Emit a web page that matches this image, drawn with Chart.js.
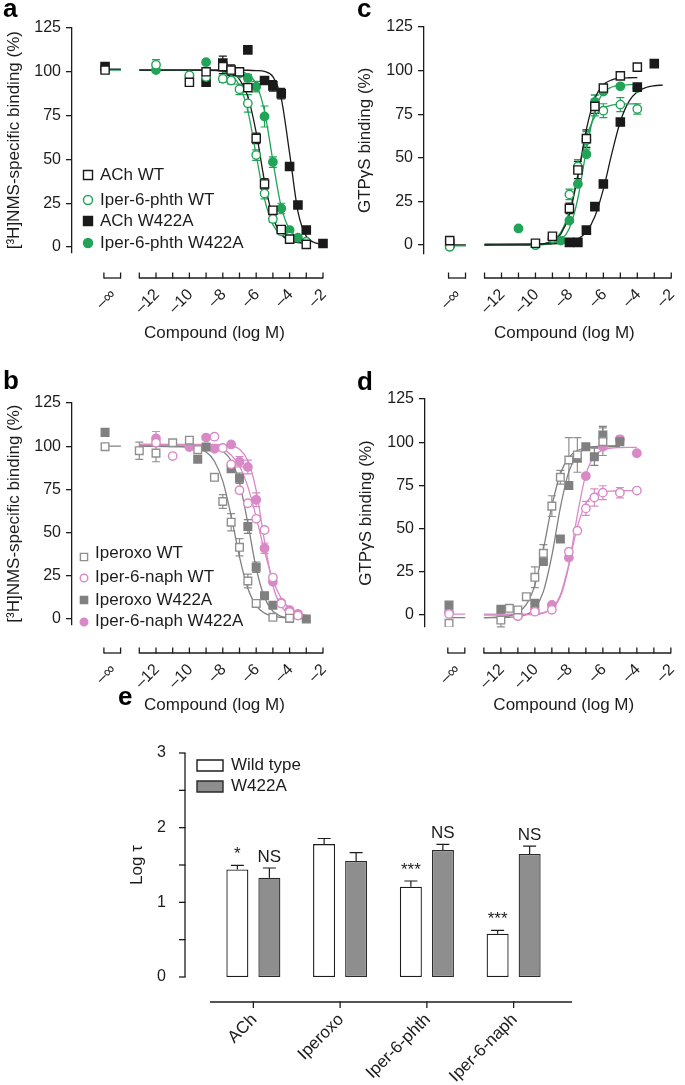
<!DOCTYPE html>
<html><head><meta charset="utf-8">
<script src="https://cdn.jsdelivr.net/npm/chart.js@4.4.1/dist/chart.umd.min.js"></script>
<style>
html,body{margin:0;padding:0;background:#fff}
body{width:685px;height:1085px;position:relative;overflow:hidden}
canvas{position:absolute}
</style></head>
<body>
<canvas id="pa" width="340" height="345" style="left:0;top:0"></canvas>
<canvas id="pc" width="345" height="345" style="left:340px;top:0"></canvas>
<canvas id="pb" width="340" height="380" style="left:0;top:345px"></canvas>
<canvas id="pd" width="345" height="380" style="left:340px;top:345px"></canvas>
<canvas id="pe" width="685" height="405" style="left:0;top:680px"></canvas>
<script>
// ---------------- shared axis definitions ----------------
const NEG_INF = -15.05;            // plotting position of the vehicle ("−∞") column
const STUB_END = -14.1;            // end of the short fit line drawn over the "−∞" column
const infSeg = [-15.12, -14.12];   // the "−∞" axis piece
const mainSeg = [-13, -2];         // the log-concentration axis piece
const xMinor = [-13, -12, -11, -10, -9, -8, -7, -6, -5, -4, -3, -2];
const xTickVals = [-14.62, -12, -10, -8, -6, -4, -2];
const xTickText = ['\u2013\u221e', '\u201312', '\u201310', '\u20138', '\u20136', '\u20134', '\u20132'];
const yTicksCurve = [0, 25, 50, 75, 100, 125];
const stubX = [NEG_INF, STUB_END];

// ---------------- panel a : [3H]NMS binding, ACh / Iper-6-phth ----------------
const aAChWT_x = [NEG_INF, -10, -9, -8, -7.5, -7, -6.5, -6, -5.5, -5, -4.5, -4, -3];
const aAChWT_y = [101, 94, 100, 103, 101, 100, 91, 62, 36, 21, 10, 4.5, 1.5];
const aAChWT_e = [0, 0, 0, 4, 3, 0, 2, 3, 3, 2, 0, 0, 0];
const aPhthWT_x = [-12, -10, -9, -8, -7.5, -7, -6.5, -6, -5.5, -5, -4.5, -4, -3];
const aPhthWT_y = [104, 98, 97, 96, 95, 90, 82, 52.5, 30.5, 16, 9, 6, 3];
const aPhthWT_e = [3, 0, 0, 2, 2, 3, 5, 3, 3, 2, 0, 0, 0];
const aAChW_x = [NEG_INF, -9, -8, -6.5, -5.5, -5, -4.5, -4, -3.5, -3, -2];
const aAChW_y = [103, 94, 105, 112.5, 95, 92, 87.5, 46, 24, 9.7, 2];
const aAChW_e = [0, 0, 4, 0, 2, 3, 3, 0, 0, 0, 0];
const aPhthW_x = [-12, -10, -9, -8, -7, -6.5, -6, -5.5, -5, -4.5, -4, -3.5, -3];
const aPhthW_y = [101, 97.5, 105.5, 104, 99, 96.5, 91.5, 74.5, 48.5, 22, 9.7, 5.3, 3];
const aPhthW_e = [0, 0, 0, 3, 0, 2, 3, 6, 3, 3, 1, 0, 0];
// fitted curves
const abFit_x = [-13, -10, -9, -8.5, -8, -7.5, -7, -6.5, -6, -5.5, -5, -4.5, -4, -3.5, -3, -2.5, -2];
const aFitAChWT = [101, 101, 100.9, 100.8, 100.5, 99.3, 95.7, 86, 65.4, 37.6, 17, 7.3, 3.7, 2.6, 2.2, null, null];
const aFitPhthWT = [101, 100.9, 100.9, 100.7, 100, 98, 92.2, 77.7, 52.5, 27.3, 12.8, 7, 5, 4.3, 4.1, null, null];
const aFitAChW = [101, 101, 101, 101, 101, 101, 101, 100.9, 100.7, 100.2, 97.2, 84.9, 53.6, 20.2, 6.1, 2.5, 1.7];
const aFitPhthW = [101, 101, 101, 101, 100.9, 100.8, 100.3, 98.6, 93, 77.4, 49.2, 22.9, 9.9, 5.4, 4.1, null, null];
const aStubBlack = [101.5, 101.5];
const aStubGreen = [101, 101];

// ---------------- panel b : [3H]NMS binding, Iperoxo / Iper-6-naph ----------------
const bIperoWT_x = [NEG_INF, -13, -12, -11, -10, -9.5, -8.5, -8, -7.5, -7, -6.5, -6, -5, -4];
const bIperoWT_y = [99.7, 97.4, 96, 102, 103.5, 98, 82, 68, 56, 41.5, 22, 9, 1, 0.5];
const bIperoWT_e = [0, 5, 5, 0, 0, 0, 2, 4, 5, 5, 4, 2, 0, 0];
const bNaphWT_x = [-12, -11, -8.5, -8, -7.5, -7, -6.5, -6, -5.5, -5, -4.5, -4, -3.5];
const bNaphWT_y = [102, 94.3, 105.5, 99, 89.5, 74.5, 67, 58, 51.5, 24, 9, 4, 2];
const bNaphWT_e = [0, 0, 0, 0, 0, 0, 0, 0, 0, 0, 0, 0, 0];
const bIperoW_x = [NEG_INF, -9.5, -9, -7.5, -7, -6.5, -6, -5.5, -5, -4, -3];
const bIperoW_y = [108, 92.5, 99.5, 87, 81.5, 53.5, 30, 13.5, 8, 0.5, 0];
const bIperoW_e = [0, 0, 0, 0, 3, 4, 3, 0, 0, 0, 0];
const bNaphW_x = [-12, -10, -9, -8.5, -7.5, -7, -6.5, -6, -5.5, -5, -4.5, -4, -3.5];
const bNaphW_y = [104.5, 99.5, 105, 98.5, 101, 91, 88, 69, 41, 21.5, 9.5, 5.2, 3];
const bNaphW_e = [4, 0, 0, 0, 0, 3, 4, 4, 3, 0, 0, 0, 0];
const bFitIperoWT = [100, 99.5, 96.6, 91.3, 79.8, 59.7, 36, 17.7, 7.8, 3.4, 1.6, 0.9, 0.6, null, null, null, null];
const bFitIperoW = [100, 100, 99.7, 99, 97.1, 91.7, 78.8, 55.4, 29.4, 12.3, 4.5, 1.5, 0.5, 0.2, 0.1, null, null];
const bFitNaphWT = [101, 100.8, 100, 99.6, 98.2, 94.9, 88.4, 76.6, 59, 39.2, 22.6, 11.9, 6.2, 3.4, 2.1, null, null];
const bFitNaphW = [101, 101, 101, 101, 100.8, 100.2, 98.2, 91.7, 74.5, 45, 19.4, 7.3, 3.2, 2, 1.6, null, null];
const bStubGray = [100, 100];

// ---------------- panel c : GTPγS binding, ACh / Iper-6-phth ----------------
const cAChWT_x = [NEG_INF, -10, -9, -8, -7.5, -7, -6.5, -6, -5, -4];
const cAChWT_y = [2.5, 1, 5, 21, 43, 61, 79.5, 90, 97, 102];
const cAChWT_e = [0, 0, 0, 3, 5, 5, 4, 0, 0, 0];
const cPhthWT_x = [NEG_INF, -10, -9, -8, -7.5, -7, -6.5, -6, -5, -4];
const cPhthWT_y = [-1, 0, 4, 29, 45, 60, 80, 77, 80.5, 78];
const cPhthWT_e = [0, 0, 0, 3, 4, 5, 6, 4, 4, 3];
const cAChW_x = [NEG_INF, -8, -7.5, -7, -6.5, -6, -5, -4, -3];
const cAChW_y = [1, 1.5, 1.5, 8.5, 22, 35, 70.5, 90.5, 104];
const cAChW_e = [0, 0, 0, 0, 0, 0, 0, 0, 0];
const cPhthW_x = [NEG_INF, -11, -10, -9, -8.5, -8, -7.5, -7, -6.5, -6, -5, -4];
const cPhthW_y = [-1, 9.5, 0, 3.5, 2.5, 14, 35, 52, 82, 88, 91, 90];
const cPhthW_e = [0, 0, 0, 0, 0, 0, 0, 0, 4, 0, 0, 0];
const cFit_x = [-13, -10, -9.5, -9, -8.5, -8, -7.5, -7, -6.5, -6, -5.5, -5, -4.5, -4, -3.5, -3, -2.5];
const cFitAChWT = [0, 0.2, 0.7, 2.1, 6.4, 17.5, 39.8, 66.3, 84.1, 91.9, 94.7, 95.6, 95.9, 96, null, null, null];
const cFitAChW = [0.5, 0.55, 0.6, 0.7, 1.0, 1.7, 3.4, 7.5, 16.3, 32, 52.5, 70.8, 82.2, 87.8, 90.3, 91.3, 91.7];
const cFitPhthWT = [0, 0.26, 0.8, 2.5, 7.4, 19.5, 40.5, 61.5, 73.6, 78.5, 80.2, 80.7, 80.9, 81, null, null, null];
const cFitPhthW = [0, 0.07, 0.24, 0.84, 2.9, 9.6, 26.8, 54.6, 77.1, 87.3, 90.6, 91.6, 91.9, 92, null, null, null];
const cStubBlack = [0, 0];
const cStubGreen = [-0.5, -0.5];

// ---------------- panel d : GTPγS binding, Iperoxo / Iper-6-naph ----------------
const dIperoWT_x = [NEG_INF, -12, -11.5, -11, -10.5, -10, -9.5, -9, -8.5, -8, -7.5, -6];
const dIperoWT_y = [-4.8, -2.9, 3.9, 2.9, 10.6, 21.8, 35.7, 63, 79.7, 89.7, 92.6, 100.3];
const dIperoWT_e = [0, 4, 0, 0, 0, 6, 5, 6, 4, 13, 10, 8];
const dNaphWT_x = [NEG_INF, -11, -10, -9, -8, -7.5, -7, -6.5, -6, -5, -4];
const dNaphWT_y = [0.6, -0.6, 1.9, 3, 36.6, 48.8, 61.7, 68, 70.8, 70.8, 72];
const dNaphWT_e = [0, 0, 0, 0, 0, 0, 4, 5, 4, 3, 0];
const dIperoW_x = [NEG_INF, -12, -10, -9.5, -8.5, -8, -7.5, -7, -6.5, -6, -5];
const dIperoW_y = [5.8, 3.3, 6.8, 31, 44, 75, 90.7, 97.4, 91.6, 104.2, 100.3];
const dIperoW_e = [0, 0, 0, 0, 2, 0, 0, 0, 5, 5, 0];
const dNaphW_x = [NEG_INF, -11, -10, -9, -8, -7, -6, -5, -4];
const dNaphW_y = [1.9, -0.6, 2.9, 5.8, 33.2, 80.4, 97.4, 101.6, 93.6];
const dNaphW_e = [0, 0, 0, 0, 0, 0, 0, 2, 0];
const dFit_x = [-13, -11.5, -11, -10.5, -10, -9.5, -9, -8.5, -8, -7.5, -7, -6.5, -6, -5.5, -5, -4.5, -4];
const dFitIperoWT = [-1.5, -0.5, 1.4, 6.1, 17.3, 38, 63, 81.7, 91.2, 95.2, 96.7, 97.2, 97.4, 97.5, 97.5, null, null];
const dFitIperoW = [-1.5, -1.3, -1.0, 0.2, 3.7, 13.5, 34.3, 62.2, 83, 92.7, 96.3, 97.5, 97.8, 97.9, 98, null, null];
const dFitNaphWT = [0, 0, 0.1, 0.2, 0.3, 1.1, 3.7, 11.6, 29.3, 51, 64.5, 69.7, 71.3, 71.7, 71.9, 72, 72];
const dFitNaphW = [0.5, 0.5, 0.5, 0.5, 0.6, 1.4, 3.6, 10.5, 28.6, 57.8, 81.4, 92, 95.5, 96.6, 96.9, 97, 97];
const dStubGray = [-1.5, -1.5];
const dStubPink = [0.5, 0.5];

// ---------------- panel e : operational efficacy (log τ) ----------------
const eCategories = ['ACh', 'Iperoxo', 'Iper-6-phth', 'Iper-6-naph'];
const eWT = [1.44, 1.78, 1.21, 0.58];
const eWT_err = [0.055, 0.075, 0.076, 0.045];
const eW422A = [1.33, 1.555, 1.70, 1.647];
const eW422A_err = [0.13, 0.11, 0.076, 0.107];
const eSigWT = ['*', '', '***', '***'];
const eSigW = ['NS', '', 'NS', 'NS'];
const eYLabels = [0, 1, 2, 3];
const eYTicks = [0, 0.5, 1, 1.5, 2, 2.5, 3];

// ---------------- styling ----------------
const FONT = '"Liberation Sans", Arial, Helvetica, sans-serif';
const INK = '#1c1c1c';
const BLACK = '#1a1a1a', GREEN = '#21a458', GRAY = '#808080', GRAY_O = '#909090', PINK = '#d889c6';
Chart.defaults.font.family = FONT;
Chart.defaults.color = INK;

function pointSet(label, xs, ys, errs, color, style, open, r) {
  return {
    label, data: xs.map((x, i) => ({ x, y: ys[i] })), errs, capW: 4,
    pointStyle: style, pointRadius: r, borderWidth: 1.4,
    backgroundColor: open ? '#ffffff' : color, borderColor: color,
    showLine: false, order: 1
  };
}
function lineSet(xs, ys, color, order) {
  return {
    label: '', data: xs.map((x, i) => ({ x, y: ys[i] })).filter(p => p.y !== null),
    showLine: true, pointRadius: 0, borderColor: color, backgroundColor: color, borderWidth: 1.3,
    cubicInterpolationMode: 'monotone', fill: false, order: order || 5
  };
}
function drawErrorBars(chart) {
  const ctx = chart.ctx, ys = chart.scales.y;
  chart.data.datasets.forEach((ds, di) => {
    if (!ds.errs) return;
    const meta = chart.getDatasetMeta(di);
    ctx.save();
    ctx.strokeStyle = ds.errColor || ds.borderColor;
    ctx.lineWidth = 1.2;
    meta.data.forEach((el, i) => {
      const e = ds.errs[i]; if (!e) return;
      const d = ds.data[i]; const v = typeof d === 'number' ? d : d.y;
      const yt = ys.getPixelForValue(v + e);
      const yb = ds.upOnly ? el.y : ys.getPixelForValue(v - e);
      ctx.beginPath();
      ctx.moveTo(el.x, yb); ctx.lineTo(el.x, yt);
      ctx.moveTo(el.x - ds.capW, yt); ctx.lineTo(el.x + ds.capW, yt);
      if (!ds.upOnly) { ctx.moveTo(el.x - ds.capW, yb); ctx.lineTo(el.x + ds.capW, yb); }
      ctx.stroke();
    });
    ctx.restore();
  });
}
function drawMarker(ctx, style, x, y, r) {
  ctx.beginPath();
  if (style === 'circle') ctx.arc(x, y, r, 0, Math.PI * 2);
  else ctx.rect(x - r, y - r, 2 * r, 2 * r);
  ctx.fill(); ctx.stroke();
}

function curvePanel(id, P) {
  const deco = {
    id: 'deco',
    beforeDatasetsDraw(chart) { drawErrorBars(chart); },
    afterDraw(chart) {
      const ctx = chart.ctx, ca = chart.chartArea, xs = chart.scales.x;
      const y0 = ca.bottom + P.gap;
      ctx.save();
      ctx.strokeStyle = INK; ctx.lineWidth = 1.3;
      [infSeg, mainSeg].forEach(s => {
        ctx.beginPath();
        ctx.moveTo(xs.getPixelForValue(s[0]), y0);
        ctx.lineTo(xs.getPixelForValue(s[1]), y0);
        ctx.stroke();
      });
      infSeg.concat(xMinor).forEach(v => {
        const x = xs.getPixelForValue(v);
        ctx.beginPath(); ctx.moveTo(x, y0 + 0.6); ctx.lineTo(x, y0 - 5.5); ctx.stroke();
      });
      ctx.fillStyle = INK; ctx.font = '16px ' + FONT;
      ctx.textAlign = 'right'; ctx.textBaseline = 'middle';
      xTickVals.forEach((v, i) => {
        const x = xs.getPixelForValue(v);
        ctx.save(); ctx.translate(x + 1, y0 + 14); ctx.rotate(-Math.PI / 4);
        ctx.fillText(xTickText[i], 0, 0); ctx.restore();
      });
      ctx.textAlign = 'center'; ctx.font = '17px ' + FONT;
      ctx.fillText('Compound (log M)', xs.getPixelForValue(P.titleAt), y0 + P.titleGap);
      // legend
      if (P.legend) {
        ctx.textAlign = 'left'; ctx.textBaseline = 'middle'; ctx.font = '17px ' + FONT;
        P.legend.forEach(it => {
          const ds = chart.data.datasets[it.ds];
          ctx.fillStyle = ds.backgroundColor; ctx.strokeStyle = ds.borderColor; ctx.lineWidth = 1.4;
          drawMarker(ctx, ds.pointStyle, P.legendMX, it.my, it.r);
          ctx.fillStyle = INK; ctx.fillText(ds.label, P.legendTX, it.ty);
        });
      }
      // panel letter
      ctx.fillStyle = '#000'; ctx.font = 'bold 26px ' + FONT;
      ctx.textAlign = 'left'; ctx.textBaseline = 'alphabetic';
      ctx.fillText(P.letter, P.letterX, P.letterY);
      ctx.restore();
    }
  };
  return new Chart(document.getElementById(id), {
    type: 'scatter',
    data: { datasets: P.datasets },
    options: {
      responsive: false, animation: false, events: [],
      layout: { padding: { left: P.padL, right: P.padR, top: P.padT, bottom: P.padB } },
      scales: {
        x: { type: 'linear', display: false, min: P.xmin, max: P.xmax },
        y: {
          type: 'linear', min: P.ymin, max: 125,
          afterBuildTicks: s => { s.ticks = yTicksCurve.map(v => ({ value: v })); },
          afterFit: s => { s.width = P.yw; },
          grid: { display: true, drawOnChartArea: false, drawTicks: true, tickLength: 6, color: INK, lineWidth: 1.3 },
          border: { display: true, color: INK, width: 1.3 },
          ticks: { padding: 5, color: INK, font: { size: 16 } },
          title: { display: true, text: P.ytitle, color: INK, font: { size: 17 }, padding: { top: 4, bottom: 4 } }
        }
      },
      plugins: { legend: { display: false }, tooltip: { enabled: false } }
    },
    plugins: [deco]
  });
}

// ---- panel a
curvePanel('pa', {
  padL: 0, yw: 72, padR: 9, padT: 28, padB: 92.7, ymin: -3, xmin: -17.03, xmax: -1.52,
  gap: 25.7, titleAt: -8.5, titleGap: 55, letter: 'a', letterX: 3, letterY: 17,
  ytitle: '[\u00b3H]NMS-specific binding (%)',
  legendMX: 88, legendTX: 100,
  legend: [{ ds: 0, my: 175, ty: 175, r: 4.5 }, { ds: 1, my: 200, ty: 200, r: 4.5 },
           { ds: 2, my: 221, ty: 221, r: 4.5 }, { ds: 3, my: 243, ty: 243, r: 4.5 }],
  datasets: [
    pointSet('ACh WT', aAChWT_x, aAChWT_y, aAChWT_e, BLACK, 'rect', true, 5.8),
    pointSet('Iper-6-phth WT', aPhthWT_x, aPhthWT_y, aPhthWT_e, GREEN, 'circle', true, 4.2),
    pointSet('ACh W422A', aAChW_x, aAChW_y, aAChW_e, BLACK, 'rect', false, 5.8),
    pointSet('Iper-6-phth W422A', aPhthW_x, aPhthW_y, aPhthW_e, GREEN, 'circle', false, 4.2),
    lineSet(abFit_x, aFitAChWT, BLACK),
    lineSet(abFit_x, aFitPhthWT, GREEN),
    lineSet(abFit_x, aFitAChW, BLACK),
    lineSet(abFit_x, aFitPhthW, GREEN),
    lineSet(stubX, aStubGreen, GREEN, 6),
    lineSet(stubX, aStubBlack, BLACK, 4)
  ]
});

// ---- panel b
curvePanel('pb', {
  padL: 0, yw: 72, padR: 9, padT: 58, padB: 100.8, ymin: -3, xmin: -17.03, xmax: -1.52,
  gap: 28.8, titleAt: -8.5, titleGap: 52, letter: 'b', letterX: 3, letterY: 44,
  ytitle: '[\u00b3H]NMS-specific binding (%)',
  legendMX: 84, legendTX: 95,
  legend: [{ ds: 0, my: 212, ty: 208, r: 3.6 }, { ds: 1, my: 233, ty: 232, r: 3.8 },
           { ds: 2, my: 255, ty: 255, r: 3.6 }, { ds: 3, my: 277, ty: 276, r: 3.8 }],
  datasets: [
    pointSet('Iperoxo WT', bIperoWT_x, bIperoWT_y, bIperoWT_e, GRAY_O, 'rect', true, 5.4),
    pointSet('Iper-6-naph WT', bNaphWT_x, bNaphWT_y, bNaphWT_e, PINK, 'circle', true, 4.2),
    pointSet('Iperoxo W422A', bIperoW_x, bIperoW_y, bIperoW_e, GRAY, 'rect', false, 5.4),
    pointSet('Iper-6-naph W422A', bNaphW_x, bNaphW_y, bNaphW_e, PINK, 'circle', false, 4.2),
    lineSet(abFit_x, bFitIperoWT, GRAY),
    lineSet(abFit_x, bFitNaphWT, PINK),
    lineSet(abFit_x, bFitIperoW, GRAY),
    lineSet(abFit_x, bFitNaphW, PINK),
    lineSet(stubX, bStubGray, GRAY, 4)
  ]
});

// ---- panel c
curvePanel('pc', {
  padL: 11, yw: 73, padR: 1, padT: 27, padB: 91.3, ymin: -5, xmin: -16.566, xmax: -1.615,
  gap: 24.3, titleAt: -8.3, titleGap: 55, letter: 'c', letterX: 17, letterY: 17,
  ytitle: 'GTP\u03b3S binding (%)',
  datasets: [
    pointSet('ACh WT', cAChWT_x, cAChWT_y, cAChWT_e, BLACK, 'rect', true, 5.8),
    pointSet('Iper-6-phth WT', cPhthWT_x, cPhthWT_y, cPhthWT_e, GREEN, 'circle', true, 4.2),
    pointSet('ACh W422A', cAChW_x, cAChW_y, cAChW_e, BLACK, 'rect', false, 5.8),
    pointSet('Iper-6-phth W422A', cPhthW_x, cPhthW_y, cPhthW_e, GREEN, 'circle', false, 4.2),
    lineSet(cFit_x, cFitAChWT, BLACK),
    lineSet(cFit_x, cFitPhthWT, GREEN),
    lineSet(cFit_x, cFitAChW, BLACK),
    lineSet(cFit_x, cFitPhthW, GREEN),
    lineSet(stubX, cStubBlack, BLACK, 6),
    lineSet(stubX, cStubGreen, GREEN, 4)
  ]
});

// ---- panel d
curvePanel('pd', {
  padL: 12, yw: 73, padR: 1, padT: 54, padB: 97.9, ymin: -7, xmin: -16.462, xmax: -1.568,
  gap: 25.9, titleAt: -8.3, titleGap: 52, letter: 'd', letterX: 17, letterY: 45,
  ytitle: 'GTP\u03b3S binding (%)',
  datasets: [
    pointSet('Iperoxo WT', dIperoWT_x, dIperoWT_y, dIperoWT_e, GRAY_O, 'rect', true, 5.4),
    pointSet('Iper-6-naph WT', dNaphWT_x, dNaphWT_y, dNaphWT_e, PINK, 'circle', true, 4.2),
    pointSet('Iperoxo W422A', dIperoW_x, dIperoW_y, dIperoW_e, GRAY, 'rect', false, 5.4),
    pointSet('Iper-6-naph W422A', dNaphW_x, dNaphW_y, dNaphW_e, PINK, 'circle', false, 4.2),
    lineSet(dFit_x, dFitIperoWT, GRAY),
    lineSet(dFit_x, dFitNaphWT, PINK),
    lineSet(dFit_x, dFitIperoW, GRAY),
    lineSet(dFit_x, dFitNaphW, PINK),
    lineSet(stubX, dStubGray, GRAY, 6),
    lineSet(stubX, dStubPink, PINK, 4)
  ]
});

// ---- panel e
const eDeco = {
  id: 'edeco',
  beforeDatasetsDraw(chart) { drawErrorBars(chart); },
  afterDraw(chart) {
    const ctx = chart.ctx, ca = chart.chartArea, ys = chart.scales.y, xs = chart.scales.x;
    const ax = ca.left - 25, ay = ca.bottom + 25;
    ctx.save();
    ctx.strokeStyle = INK; ctx.lineWidth = 1.3;
    ctx.beginPath(); ctx.moveTo(ax, ys.getPixelForValue(3)); ctx.lineTo(ax, ys.getPixelForValue(0)); ctx.stroke();
    eYTicks.forEach(v => {
      const y = ys.getPixelForValue(v);
      ctx.beginPath(); ctx.moveTo(ax + 0.6, y); ctx.lineTo(ax - 6, y); ctx.stroke();
    });
    ctx.beginPath(); ctx.moveTo(ca.left, ay); ctx.lineTo(ca.right + 15, ay); ctx.stroke();
    ctx.fillStyle = INK; ctx.font = '17px ' + FONT; ctx.textAlign = 'right'; ctx.textBaseline = 'middle';
    eCategories.forEach((c, i) => {
      const x = xs.getPixelForValue(i);
      ctx.beginPath(); ctx.moveTo(x, ay - 0.6); ctx.lineTo(x, ay + 6); ctx.stroke();
      ctx.save(); ctx.translate(x + 1, ay + 15); ctx.rotate(-Math.PI / 4);
      ctx.fillText(c, 0, 0); ctx.restore();
    });
    // significance labels
    ctx.textAlign = 'center'; ctx.textBaseline = 'alphabetic'; ctx.font = '17px ' + FONT;
    [[0, eSigWT, eWT, eWT_err], [1, eSigW, eW422A, eW422A_err]].forEach(([di, sig, vals, errs]) => {
      const meta = chart.getDatasetMeta(di);
      meta.data.forEach((el, i) => {
        if (!sig[i]) return;
        const yt = ys.getPixelForValue(vals[i] + errs[i]);
        ctx.fillText(sig[i], el.x, yt - 6);
      });
    });
    // legend
    ctx.textAlign = 'left'; ctx.textBaseline = 'middle';
    chart.data.datasets.forEach((ds, i) => {
      const y = 80 + i * 21;
      ctx.fillStyle = ds.backgroundColor; ctx.strokeStyle = ds.borderColor; ctx.lineWidth = 1.4;
      ctx.beginPath(); ctx.rect(197, y, 26, 11); ctx.fill(); ctx.stroke();
      ctx.fillStyle = INK; ctx.fillText(ds.label, 231, y + 5.5);
    });
    ctx.fillStyle = '#000'; ctx.font = 'bold 26px ' + FONT; ctx.textBaseline = 'alphabetic';
    ctx.fillText('e', 118, 25);
    ctx.restore();
  }
};
new Chart(document.getElementById('pe'), {
  type: 'bar',
  data: {
    labels: eCategories,
    datasets: [
      { label: 'Wild type', data: eWT, errs: eWT_err, upOnly: true, capW: 6.5, errColor: INK,
        backgroundColor: '#ffffff', borderColor: INK, borderWidth: 1.3, borderSkipped: false,
        categoryPercentage: 0.738, barPercentage: 0.6875 },
      { label: 'W422A', data: eW422A, errs: eW422A_err, upOnly: true, capW: 6.5, errColor: INK,
        backgroundColor: '#8e8e8e', borderColor: '#2a2a2a', borderWidth: 1.3, borderSkipped: false,
        categoryPercentage: 0.738, barPercentage: 0.6875 }
    ]
  },
  options: {
    responsive: false, animation: false, events: [],
    layout: { padding: { left: 123, right: 128, top: 73, bottom: 108 } },
    scales: {
      x: { display: false },
      y: {
        min: 0, max: 3,
        afterBuildTicks: s => { s.ticks = eYLabels.map(v => ({ value: v })); },
        afterFit: s => { s.width = 87; },
        grid: { display: false, drawTicks: false }, border: { display: false },
        ticks: { padding: 44, color: INK, font: { size: 16 } },
        title: { display: true, text: 'Log \u03c4', color: INK, font: { size: 17 }, padding: { top: 4, bottom: 4 } }
      }
    },
    plugins: { legend: { display: false }, tooltip: { enabled: false } }
  },
  plugins: [eDeco]
});
</script>
</body></html>
